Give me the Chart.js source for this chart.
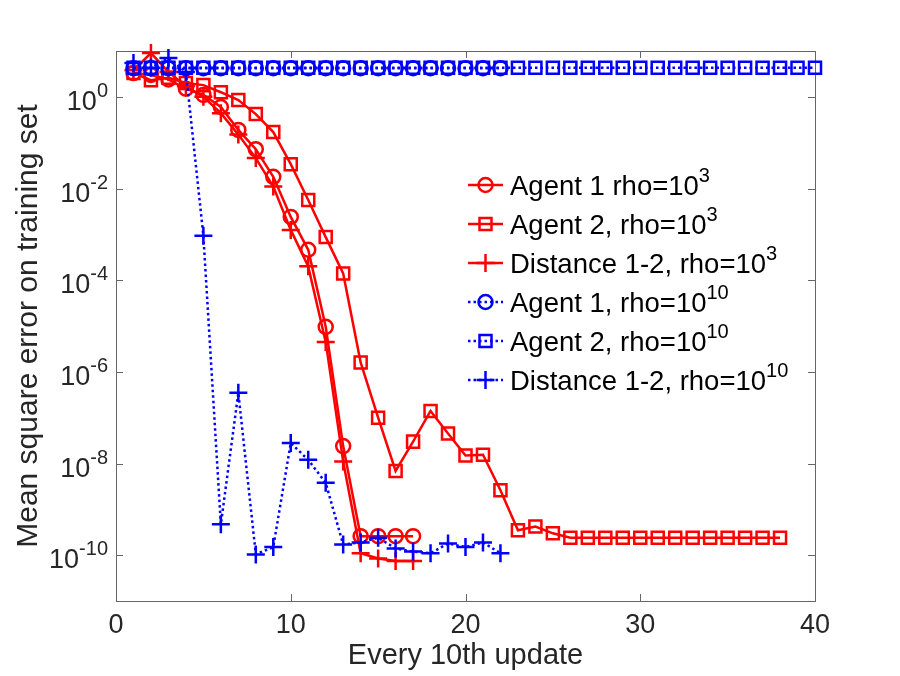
<!DOCTYPE html>
<html>
<head>
<meta charset="utf-8">
<script src="https://cdn.jsdelivr.net/npm/chart.js@4.4.0/dist/chart.umd.min.js"></script>
<style>
  body { margin: 0; background: #fff; }
  canvas { display: block; }
</style>
</head>
<body>
<canvas id="myChart" width="900" height="676"></canvas>
<script>
// x positions (every 10th update)
const updates = [1, 2, 3, 4, 5, 6, 7, 8, 9, 10, 11, 12, 13, 14, 15, 16, 17, 18, 19, 20,
  21, 22, 23, 24, 25, 26, 27, 28, 29, 30, 31, 32, 33, 34, 35, 36, 37, 38, 39, 40];

// values
const agent1Rho3 = [3.3, 3.0, 2.4, 1.5, 1.1, 0.6, 0.19, 0.072, 0.018, 0.0024, 4.6e-4, 9.6e-6,
  2.4e-8, 2.6e-10, 2.6e-10, 2.6e-10, 2.6e-10];
const agent2Rho3 = [3.3, 2.3, 2.6, 2.0, 1.8, 1.26, 0.85, 0.42, 0.17, 0.034, 5.6e-3, 8.7e-4,
  1.4e-4, 1.6e-6, 1e-7, 6.9e-9, 3e-8, 1.4e-7, 4.5e-8, 1.5e-8, 1.55e-8, 2.6e-9, 3.5e-10,
  4.2e-10, 3e-10, 2.4e-10, 2.4e-10, 2.4e-10, 2.4e-10, 2.4e-10, 2.4e-10, 2.4e-10, 2.4e-10,
  2.4e-10, 2.4e-10, 2.4e-10, 2.4e-10, 2.4e-10];
const distRho3 = [3.8, 9.0, 3.5, 1.7, 1.0, 0.44, 0.15, 0.046, 0.011, 1.25e-3, 2e-4, 4.5e-6,
  1.1e-8, 1.1e-10, 8.5e-11, 7.5e-11, 7.5e-11];
const agent1Rho10 = [4.2, 4.2, 4.2, 4.2, 4.2, 4.2, 4.2, 4.2, 4.2, 4.2, 4.2, 4.2, 4.2, 4.2,
  4.2, 4.2, 4.2, 4.2, 4.2, 4.2, 4.2, 4.2];
const agent2Rho10 = [4.3, 4.3, 4.3, 4.3, 4.3, 4.3, 4.3, 4.3, 4.3, 4.3, 4.3, 4.3, 4.3, 4.3,
  4.3, 4.3, 4.3, 4.3, 4.3, 4.3, 4.3, 4.3, 4.3, 4.3, 4.3, 4.3, 4.3, 4.3, 4.3, 4.3, 4.3, 4.3,
  4.3, 4.3, 4.3, 4.3, 4.3, 4.3, 4.3, 4.3];
const distRho10 = [5.5, 4.3, 7.0, 3.5, 9.3e-4, 4.7e-10, 3.5e-7, 1.04e-10, 1.5e-10, 2.8e-8,
  1.2e-8, 3.8e-9, 1.7e-10, 1.9e-10, 2.4e-10, 1.4e-10, 1.2e-10, 1.1e-10, 1.8e-10, 1.5e-10,
  1.9e-10, 1.1e-10];

// legend text, split into base and superscript
const legendText = ["Agent 1 rho=10", "Agent 2, rho=10", "Distance 1-2, rho=10",
  "Agent 1, rho=10", "Agent 2, rho=10", "Distance 1-2, rho=10"];
const legendExp = ["3", "3", "3", "10", "10", "10"];

// tick labels
const xTicks = [0, 10, 20, 30, 40];
const yTickExps = [0, -2, -4, -6, -8, -10];

const FONT = "'Liberation Sans', Arial, Helvetica, sans-serif";
const TEXT = "#262626";
const RED = "#ff0000";
const BLUE = "#0000ff";

function series(label, values, color, style, radius, dashed, i) {
  return {
    label: label,
    data: values.map((v, k) => ({ x: updates[k], y: v })),
    borderColor: color,
    backgroundColor: "rgba(0,0,0,0)",
    borderWidth: 2.5,
    borderDash: dashed ? [2.5, 3] : [],
    pointStyle: style,
    pointRadius: radius,
    pointHoverRadius: radius,
    pointBorderWidth: 2.5,
    pointBorderColor: color,
    pointBackgroundColor: "rgba(0,0,0,0)",
    tension: 0,
    fill: false,
    clip: false,
    order: 5 - i, // later series on top, like the original plot
  };
}

const datasets = [
  series(legendText[0], agent1Rho3, RED, "circle", 7, false, 0),
  series(legendText[1], agent2Rho3, RED, "rect", 8.5, false, 1),
  series(legendText[2], distRho3, RED, "cross", 9, false, 2),
  series(legendText[3], agent1Rho10, BLUE, "circle", 7, true, 3),
  series(legendText[4], agent2Rho10, BLUE, "rect", 8.5, true, 4),
  series(legendText[5], distRho10, BLUE, "cross", 9, true, 5),
];

// draws base text with a raised exponent
function powText(ctx, base, exp, xr, baseY, size, expSize, align) {
  ctx.font = size + "px " + FONT;
  const wb = ctx.measureText(base).width;
  ctx.font = expSize + "px " + FONT;
  const we = ctx.measureText(exp).width;
  let x0 = align === "right" ? xr - wb - we : xr;
  ctx.textAlign = "left";
  ctx.textBaseline = "alphabetic";
  ctx.font = size + "px " + FONT;
  ctx.fillText(base, x0, baseY);
  ctx.font = expSize + "px " + FONT;
  ctx.fillText(exp, x0 + wb, baseY - size * 0.48);
}

// frame, inward ticks and labels
const axisFrame = {
  id: "axisFrame",
  beforeDatasetsDraw(chart) {
    const { ctx, chartArea: a, scales } = chart;
    const sx = scales.x, sy = scales.y;
    ctx.save();
    ctx.strokeStyle = "#666";
    ctx.lineWidth = 1;
    ctx.setLineDash([]);
    ctx.strokeRect(a.left + 0.5, a.top + 0.5, a.right - a.left, a.bottom - a.top);
    ctx.beginPath();
    xTicks.forEach((v) => {
      const px = Math.round(sx.getPixelForValue(v)) + 0.5;
      ctx.moveTo(px, a.bottom); ctx.lineTo(px, a.bottom - 7);
      ctx.moveTo(px, a.top); ctx.lineTo(px, a.top + 7);
    });
    yTickExps.forEach((e) => {
      const py = Math.round(sy.getPixelForValue(Math.pow(10, e))) + 0.5;
      ctx.moveTo(a.left, py); ctx.lineTo(a.left + 7, py);
      ctx.moveTo(a.right, py); ctx.lineTo(a.right - 7, py);
    });
    ctx.stroke();

    ctx.fillStyle = TEXT;
    ctx.font = "27px " + FONT;
    ctx.textAlign = "center";
    ctx.textBaseline = "alphabetic";
    xTicks.forEach((v) => {
      ctx.fillText(String(v), sx.getPixelForValue(v), 633);
    });
    yTickExps.forEach((e) => {
      const py = sy.getPixelForValue(Math.pow(10, e));
      powText(ctx, "10", String(e), a.left - 8, py + 13, 27, 20, "right");
    });

    ctx.font = "29px " + FONT;
    ctx.textAlign = "center";
    ctx.fillText("Every 10th update", (a.left + a.right) / 2, 664);

    ctx.save();
    ctx.translate(37, (a.top + a.bottom) / 2);
    ctx.rotate(-Math.PI / 2);
    ctx.font = "30px " + FONT;
    ctx.textAlign = "center";
    ctx.fillText("Mean square error on training set", 0, 0);
    ctx.restore();
    ctx.restore();
  },
};

// legend inside the plot area
const innerLegend = {
  id: "innerLegend",
  afterDatasetsDraw(chart) {
    const ctx = chart.ctx;
    ctx.save();
    chart.data.datasets.forEach((ds, i) => {
      const rowY = 185 + 39 * i;
      ctx.strokeStyle = ds.borderColor;
      ctx.lineWidth = ds.borderWidth;
      ctx.setLineDash(ds.borderDash);
      ctx.beginPath();
      ctx.moveTo(468, rowY);
      ctx.lineTo(503, rowY);
      ctx.stroke();
      ctx.setLineDash([]);
      ctx.fillStyle = "rgba(0,0,0,0)";
      ctx.lineWidth = ds.pointBorderWidth;
      Chart.helpers.drawPoint(ctx, {
        pointStyle: ds.pointStyle, radius: ds.pointRadius, rotation: 0,
        borderWidth: ds.pointBorderWidth,
      }, 485.5, rowY);
      ctx.fillStyle = "#000";
      powText(ctx, legendText[i], legendExp[i], 510, rowY + 10, 27.5, 20, "left");
    });
    ctx.restore();
  },
};

const config = {
  type: "line",
  data: { datasets },
  options: {
    responsive: false,
    animation: false,
    events: [],
    layout: { padding: { left: 116, top: 51, right: 85, bottom: 75 } },
    scales: {
      x: { type: "linear", min: 0, max: 40, display: false },
      y: { type: "logarithmic", min: 1e-11, max: 10, display: false },
    },
    plugins: { legend: { display: false }, tooltip: { enabled: false } },
  },
  plugins: [axisFrame, innerLegend],
};

const myChart = new Chart(document.getElementById("myChart"), config);
</script>
</body>
</html>
